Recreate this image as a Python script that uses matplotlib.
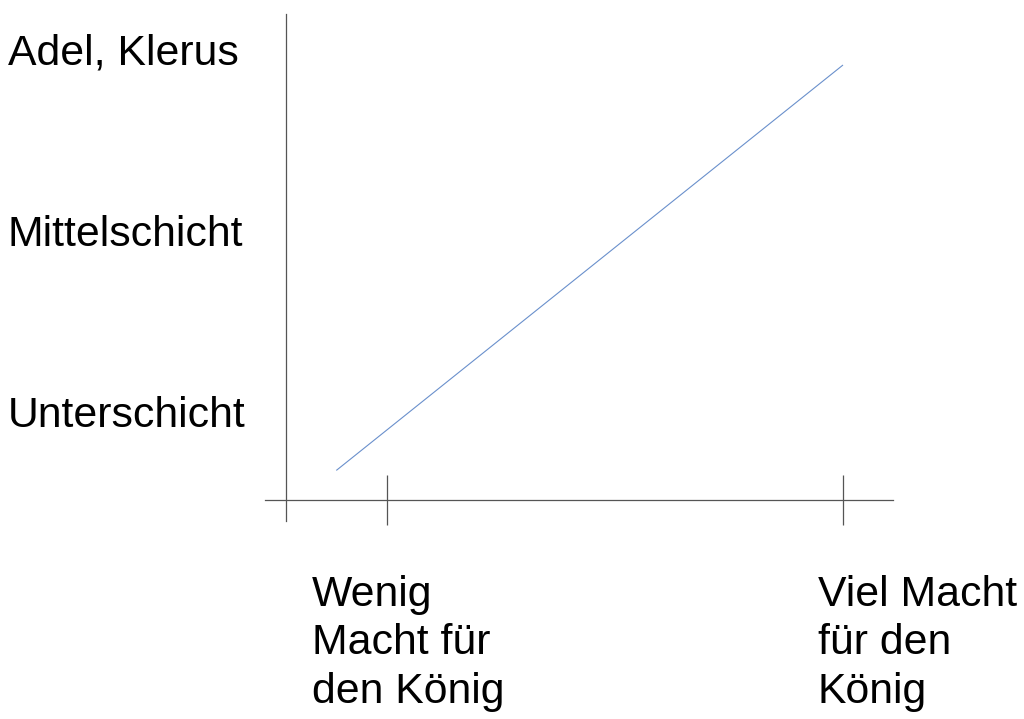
import matplotlib.pyplot as plt

plt.rcParams['font.family'] = ['Liberation Sans', 'DejaVu Sans']

# Social classes on the y axis (level 1 = bottom)
class_levels = [1, 2, 3]
class_labels = ["Unterschicht", "Mittelschicht", "Adel, Klerus"]

# Power of the king on the x axis
power_ticks = [1, 2]
power_labels = ["Wenig\nMacht für\nden König", "Viel Macht\nfür den\nKönig"]
power_label_x = [0.837, 1.945]   # left edge of each label block

# The line: which class carries the state depending on the king's power
line_x = [0.89, 2.0]
line_y = [0.76, 3.0]

# axis crossing and extents (data units)
yaxis_x = 0.78
yaxis_span = (0.48, 3.28)
xaxis_y = 0.594
xaxis_span = (0.734, 2.11)

fig = plt.figure(figsize=(10.24, 7.19), dpi=100)
ax = fig.add_axes([0, 0, 1, 1])
ax.set_xlim(0.1533, 2.3965)
ax.set_ylim(-0.6133, 3.3591)

ax.plot(line_x, line_y, color='#6a90cc', lw=0.8, solid_capstyle='butt')

for side in ['top', 'right']:
    ax.spines[side].set_visible(False)
ax.spines['left'].set_position(('data', yaxis_x))
ax.spines['left'].set_bounds(*yaxis_span)
ax.spines['bottom'].set_position(('data', xaxis_y))
ax.spines['bottom'].set_bounds(*xaxis_span)
for side in ['left', 'bottom']:
    ax.spines[side].set_color('#555555')
    ax.spines[side].set_linewidth(0.9)

ax.set_xticks(power_ticks)
ax.set_xticklabels([])
ax.tick_params(axis='x', direction='inout', length=36, width=0.9, color='#555555')

ax.set_yticks(class_levels)
ax.set_yticklabels(class_labels, fontsize=30.8)
ax.tick_params(axis='y', length=0, pad=200.5)
for lbl in ax.get_yticklabels():
    lbl.set_horizontalalignment('left')
    lbl.set_verticalalignment('baseline')

# baseline of the last line of each label block
for x, text in zip(power_label_x, power_labels):
    ax.text(x, -0.525, text, fontsize=30.8, ha='left', va='baseline', linespacing=1.28)

fig.savefig('out.png', dpi=100)
